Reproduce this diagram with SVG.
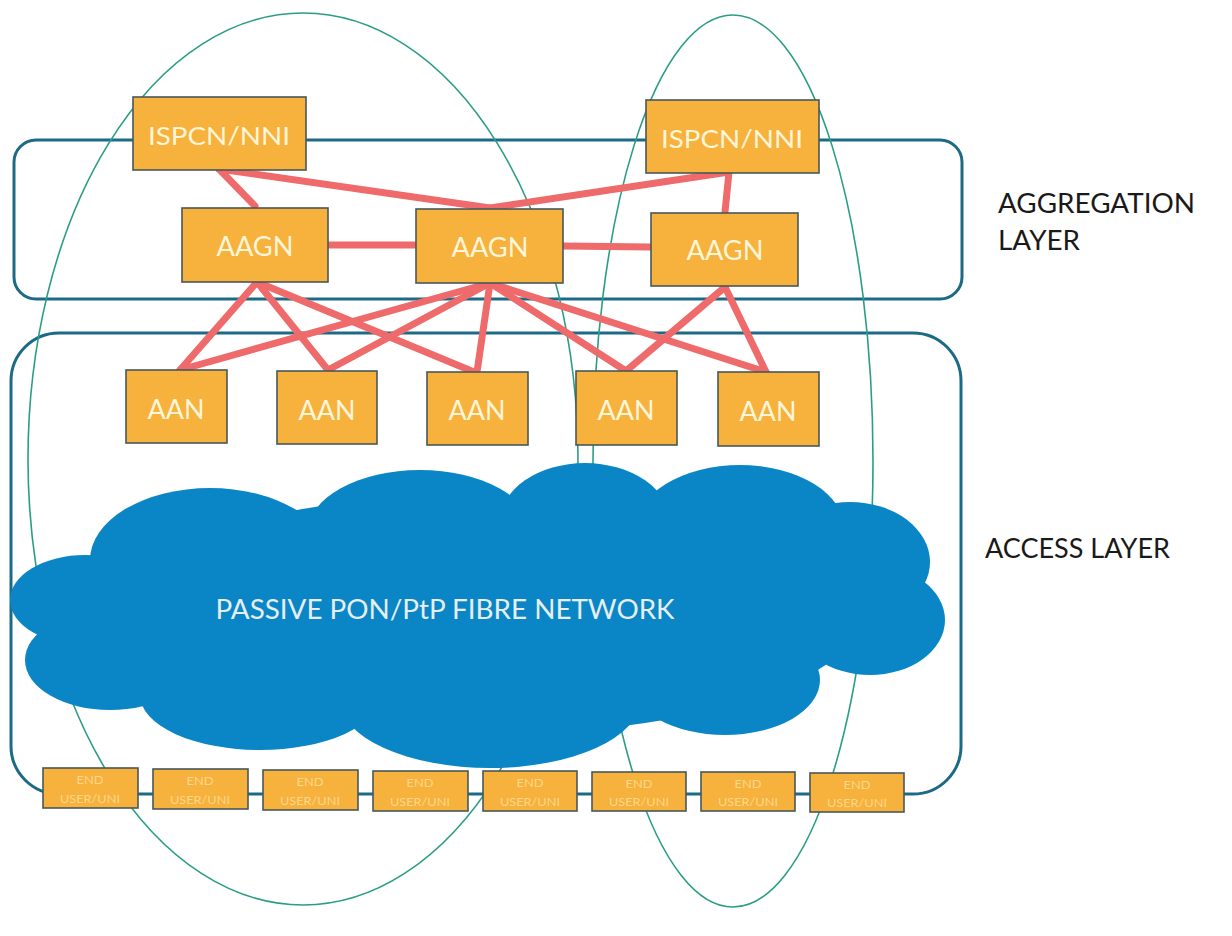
<svg xmlns="http://www.w3.org/2000/svg" width="1232" height="936" viewBox="0 0 1232 936">
<style>
.layer{fill:none;stroke:#1d6a86;stroke-width:3}
.oval{fill:none;stroke:#2a9e85;stroke-width:1.6}
.box{fill:#F7B13D;stroke:#46585a;stroke-width:1.6}
.lnk{stroke:#EF6A6A;stroke-width:7;stroke-linecap:round;fill:none}
.bt{font-family:Lato,"Liberation Sans",Arial,sans-serif;fill:#FFF6D8;text-anchor:middle;dominant-baseline:central}
.eu{font-family:Lato,"Liberation Sans",Arial,sans-serif;fill:#FBD789;text-anchor:middle;font-size:11px}
.lbl{font-family:Lato,"Liberation Sans",Arial,sans-serif;fill:#1a1a1a;font-size:27px}
.cloud{fill:#0A86C6}
</style>
<rect width="1232" height="936" fill="#ffffff"/>
<g id="layers">
<rect id="aggregation-layer" class="layer" x="14" y="140" width="948" height="159" rx="22"/>
<rect id="access-layer" class="layer" x="11" y="333" width="950" height="461" rx="48"/>
</g>
<g id="ovals">
<ellipse class="oval" cx="303" cy="459" rx="275" ry="446"/>
<ellipse class="oval" cx="733" cy="461" rx="140" ry="446"/>
</g>
<g id="cloud" class="cloud">
<ellipse cx="480" cy="615" rx="380" ry="120"/>
<ellipse cx="210" cy="560" rx="120" ry="72"/>
<ellipse cx="420" cy="532" rx="112" ry="62"/>
<ellipse cx="585" cy="522" rx="85" ry="59"/>
<ellipse cx="740" cy="530" rx="105" ry="65"/>
<ellipse cx="850" cy="562" rx="80" ry="60"/>
<ellipse cx="870" cy="620" rx="75" ry="55"/>
<ellipse cx="725" cy="680" rx="95" ry="55"/>
<ellipse cx="490" cy="700" rx="150" ry="68"/>
<ellipse cx="260" cy="695" rx="120" ry="55"/>
<ellipse cx="110" cy="660" rx="85" ry="50"/>
<ellipse cx="85" cy="600" rx="75" ry="45"/>
<text x="445" y="608" font-family="Lato,'Liberation Sans',Arial,sans-serif" font-size="27" fill="#E6EEF2" text-anchor="middle" dominant-baseline="central" textLength="459" lengthAdjust="spacingAndGlyphs">PASSIVE PON/PtP FIBRE NETWORK</text>
</g>
<g id="connectors">
<line class="lnk" x1="219" y1="169" x2="255" y2="206"/>
<line class="lnk" x1="219" y1="169" x2="490" y2="208"/>
<line class="lnk" x1="729" y1="172" x2="490" y2="208"/>
<line class="lnk" x1="729" y1="172" x2="725" y2="212"/>
<line class="lnk" x1="328" y1="245" x2="416" y2="245"/>
<line class="lnk" x1="563" y1="246" x2="651" y2="247"/>
<line class="lnk" x1="257" y1="282" x2="180" y2="370"/>
<line class="lnk" x1="257" y1="282" x2="328" y2="370"/>
<line class="lnk" x1="257" y1="282" x2="474" y2="372"/>
<line class="lnk" x1="490" y1="283" x2="180" y2="370"/>
<line class="lnk" x1="490" y1="283" x2="328" y2="370"/>
<line class="lnk" x1="490" y1="283" x2="477" y2="372"/>
<line class="lnk" x1="490" y1="283" x2="626" y2="371"/>
<line class="lnk" x1="490" y1="283" x2="766" y2="372"/>
<line class="lnk" x1="725" y1="287" x2="626" y2="371"/>
<line class="lnk" x1="725" y1="287" x2="766" y2="372"/>
</g>
<g id="ispcn-1"><rect class="box" x="133" y="97" width="173" height="73"/><text class="bt" x="219" y="135" font-size="25" textLength="142" lengthAdjust="spacingAndGlyphs">ISPCN/NNI</text></g>
<g id="ispcn-2"><rect class="box" x="646" y="100" width="173" height="73"/><text class="bt" x="732" y="138" font-size="25" textLength="142" lengthAdjust="spacingAndGlyphs">ISPCN/NNI</text></g>
<g id="aagn-1"><rect class="box" x="182" y="208" width="146" height="74"/><text class="bt" x="255" y="246" font-size="26" textLength="77" lengthAdjust="spacingAndGlyphs">AAGN</text></g>
<g id="aagn-2"><rect class="box" x="416" y="209" width="147" height="74"/><text class="bt" x="490" y="247" font-size="26" textLength="77" lengthAdjust="spacingAndGlyphs">AAGN</text></g>
<g id="aagn-3"><rect class="box" x="651" y="213" width="147" height="73"/><text class="bt" x="725" y="250" font-size="26" textLength="77" lengthAdjust="spacingAndGlyphs">AAGN</text></g>
<g id="aan-1"><rect class="box" x="126" y="370" width="101" height="73"/><text class="bt" x="176" y="409" font-size="26" textLength="57" lengthAdjust="spacingAndGlyphs">AAN</text></g>
<g id="aan-2"><rect class="box" x="277" y="371" width="100" height="73"/><text class="bt" x="327" y="410" font-size="26" textLength="57" lengthAdjust="spacingAndGlyphs">AAN</text></g>
<g id="aan-3"><rect class="box" x="427" y="372" width="101" height="73"/><text class="bt" x="477" y="410" font-size="26" textLength="57" lengthAdjust="spacingAndGlyphs">AAN</text></g>
<g id="aan-4"><rect class="box" x="576" y="371" width="101" height="74"/><text class="bt" x="626" y="410" font-size="26" textLength="57" lengthAdjust="spacingAndGlyphs">AAN</text></g>
<g id="aan-5"><rect class="box" x="718" y="372" width="101" height="74"/><text class="bt" x="768" y="411" font-size="26" textLength="57" lengthAdjust="spacingAndGlyphs">AAN</text></g>
<g id="eu-1"><rect class="box" x="43" y="768" width="95" height="40"/><text class="eu" x="90" y="784" textLength="27" lengthAdjust="spacingAndGlyphs">END</text><text class="eu" x="90" y="803" textLength="60" lengthAdjust="spacingAndGlyphs">USER/UNI</text></g>
<g id="eu-2"><rect class="box" x="153" y="769" width="95" height="40"/><text class="eu" x="200" y="785" textLength="27" lengthAdjust="spacingAndGlyphs">END</text><text class="eu" x="200" y="804" textLength="60" lengthAdjust="spacingAndGlyphs">USER/UNI</text></g>
<g id="eu-3"><rect class="box" x="263" y="770" width="95" height="40"/><text class="eu" x="310" y="786" textLength="27" lengthAdjust="spacingAndGlyphs">END</text><text class="eu" x="310" y="805" textLength="60" lengthAdjust="spacingAndGlyphs">USER/UNI</text></g>
<g id="eu-4"><rect class="box" x="373" y="771" width="95" height="40"/><text class="eu" x="420" y="787" textLength="27" lengthAdjust="spacingAndGlyphs">END</text><text class="eu" x="420" y="806" textLength="60" lengthAdjust="spacingAndGlyphs">USER/UNI</text></g>
<g id="eu-5"><rect class="box" x="483" y="771" width="94" height="40"/><text class="eu" x="530" y="787" textLength="27" lengthAdjust="spacingAndGlyphs">END</text><text class="eu" x="530" y="806" textLength="60" lengthAdjust="spacingAndGlyphs">USER/UNI</text></g>
<g id="eu-6"><rect class="box" x="592" y="772" width="94" height="39"/><text class="eu" x="639" y="788" textLength="27" lengthAdjust="spacingAndGlyphs">END</text><text class="eu" x="639" y="806" textLength="60" lengthAdjust="spacingAndGlyphs">USER/UNI</text></g>
<g id="eu-7"><rect class="box" x="701" y="772" width="94" height="39"/><text class="eu" x="748" y="788" textLength="27" lengthAdjust="spacingAndGlyphs">END</text><text class="eu" x="748" y="806" textLength="60" lengthAdjust="spacingAndGlyphs">USER/UNI</text></g>
<g id="eu-8"><rect class="box" x="810" y="773" width="94" height="39"/><text class="eu" x="857" y="789" textLength="27" lengthAdjust="spacingAndGlyphs">END</text><text class="eu" x="857" y="807" textLength="60" lengthAdjust="spacingAndGlyphs">USER/UNI</text></g>
<g id="labels">
<text class="lbl" x="998" y="213" textLength="197" lengthAdjust="spacingAndGlyphs">AGGREGATION</text>
<text class="lbl" x="998" y="250" textLength="82" lengthAdjust="spacingAndGlyphs">LAYER</text>
<text class="lbl" x="985" y="558" textLength="185" lengthAdjust="spacingAndGlyphs">ACCESS LAYER</text>
</g>
</svg>
